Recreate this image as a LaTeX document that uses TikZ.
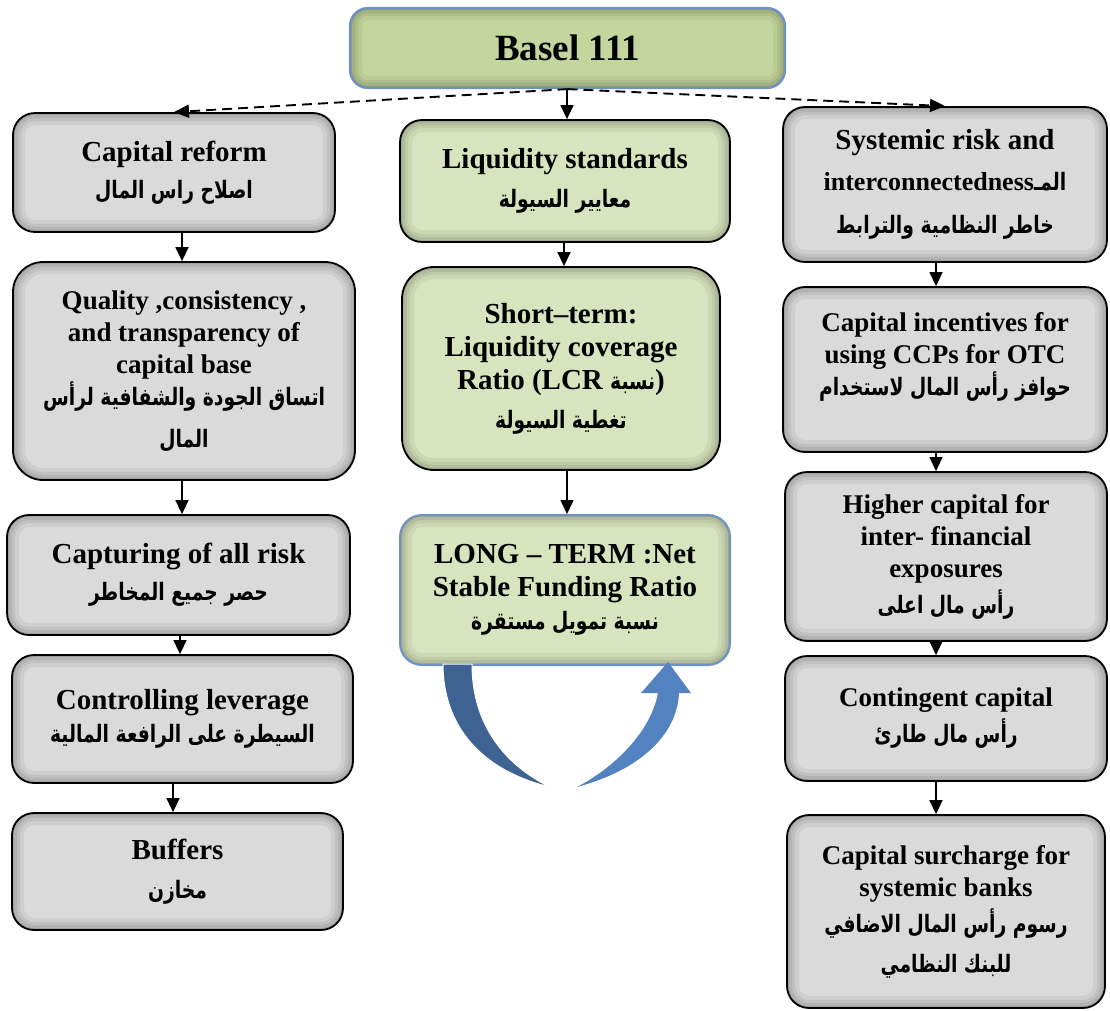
\documentclass[tikz,border=0pt]{standalone}
\usepackage{fontspec}
\setmainfont{Liberation Serif}
\newfontfamily\arabicfont[Script=Arabic,FakeStretch=0.78]{DejaVu Sans}
\TeXXeTstate=1
\usetikzlibrary{arrows.meta}

\definecolor{boxgray}{RGB}{218,218,218}
\definecolor{boxgreen}{RGB}{215,228,189}
\definecolor{topgreen}{RGB}{196,214,158}
\definecolor{edgeblue}{RGB}{110,145,198}
\definecolor{arcdark}{RGB}{62,98,146}
\definecolor{arclight}{RGB}{82,130,192}

% Arabic text, set right to left
\newcommand\ar[1]{{\arabicfont\bfseries\fontsize{24}{31}\selectfont\beginR #1\endR}}
% font sizes for the English lines
\newcommand\largelabel{\fontsize{29}{33}\selectfont}
\newcommand\midlabel{\fontsize{27}{32}\selectfont}

\tikzset{
  shadeedge/.style={path picture={
      \foreach \w/\o in {24/0.05,16/0.06,10/0.07,4/0.10}
        \draw[line width=\w pt, black, opacity=\o, rounded corners=#1]
          (path picture bounding box.south west) rectangle (path picture bounding box.north east);}},
  card/.style={draw=black, line width=1.8pt, rounded corners=#1, fill=boxgray,
    shadeedge=#1, align=center, inner sep=0pt,
    font=\bfseries\largelabel},
  card/.default=22pt,
  greencard/.style={card=#1, fill=boxgreen},
  greencard/.default=22pt,
  arr/.style={-{Triangle[length=14pt,width=13pt]}, line width=1.5pt},
  dasharr/.style={dash pattern=on 10pt off 6pt, line width=1.9pt,
    -{Triangle[length=15pt,width=13pt]}},
}

\begin{document}
\begin{tikzpicture}[x=1pt,y=-1pt]
\useasboundingbox (0,0) rectangle (1110,1010);

% top node
\node[card=18pt, fill=topgreen, draw=edgeblue, line width=2.2pt,
      minimum width=435pt, minimum height=80pt,
      font=\bfseries\fontsize{37}{40}\selectfont] (basel) at (567.5,48) {Basel 111};

% left column: capital reform
\node[card, minimum width=322pt, minimum height=119pt] (capref) at (174,172.5)
  {Capital reform\\[4pt]\ar{اصلاح راس المال}};
\node[card=30pt, minimum width=342pt, minimum height=218pt, font=\bfseries\midlabel] (quality) at (184,371)
  {Quality ,consistency ,\\and transparency of\\capital base\\\ar{اتساق الجودة والشفافية لرأس}\\[10pt]\ar{المال}};
\node[card, minimum width=343pt, minimum height=120pt] (capture) at (178.5,575)
  {Capturing of all risk\\[4pt]\ar{حصر جميع المخاطر}};
\node[card, minimum width=341pt, minimum height=128pt] (control) at (182.5,719)
  {Controlling leverage\\\ar{السيطرة على الرافعة المالية}};
\node[card, minimum width=331pt, minimum height=117pt] (buffers) at (177.5,871.5)
  {Buffers\\[6pt]\ar{مخازن}};

% middle column: liquidity
\node[greencard, minimum width=330pt, minimum height=122pt] (liq) at (565,181)
  {Liquidity standards\\[6pt]\ar{معايير السيولة}};
\node[greencard=32pt, minimum width=318pt, minimum height=203pt] (short) at (561,368.5)
  {Short–term:\\Liquidity coverage\\Ratio (LCR \ar{نسبة})\\[6pt]\ar{تغطية السيولة}};
\node[greencard, draw=edgeblue, line width=2pt, minimum width=330pt, minimum height=150pt] (long) at (565,590)
  {LONG – TERM :Net\\Stable Funding Ratio\\\ar{نسبة تمويل مستقرة}};

% right column: systemic risk
\node[card, minimum width=324pt, minimum height=155pt] (sys) at (945,184.5)
  {Systemic risk and\\[8pt]{\fontsize{26}{32}\selectfont interconnectedness}\ar{المـ}\\[10pt]\ar{خاطر النظامية والترابط}};
\node[card, minimum width=324pt, minimum height=165pt, font=\bfseries\midlabel] (inc) at (945,369.5)
  {Capital incentives for\\using CCPs for OTC\\\ar{حوافز رأس المال لاستخدام}\\\mbox{}};
\node[card, minimum width=322pt, minimum height=169pt, font=\bfseries\midlabel] (higher) at (946,556.5)
  {Higher capital for\\inter- financial\\exposures\\[4pt]\ar{رأس مال اعلى}};
\node[card, minimum width=322pt, minimum height=125pt, font=\bfseries\midlabel] (cont) at (946,718.5)
  {Contingent capital\\[4pt]\ar{رأس مال طارئ}};
\node[card, minimum width=318pt, minimum height=193pt, font=\bfseries\midlabel] (surch) at (946,911.5)
  {Capital surcharge for\\systemic banks\\[4pt]\ar{رسوم رأس المال الاضافي}\\[8pt]\ar{للبنك النظامي}};

% columns of vertical connectors
\coordinate (xa) at (182,0);
\coordinate (xb) at (180,0);
\coordinate (xc) at (173,0);
\coordinate (xm) at (567,0);
\coordinate (xn) at (564,0);
\coordinate (xr) at (936,0);

\draw[dasharr] (basel.south) -- (capref.north);
\draw[dasharr] (basel.south) -- (sys.north);

\draw[arr] (basel.south -| xm) -- (liq.north -| xm);
\draw[arr] (liq.south -| xn) -- (short.north -| xn);
\draw[arr] (short.south -| xm) -- (long.north -| xm);

\draw[arr] (capref.south -| xa) -- (quality.north -| xa);
\draw[arr] (quality.south -| xa) -- (capture.north -| xa);
\draw[arr] (capture.south -| xb) -- (control.north -| xb);
\draw[arr] (control.south -| xc) -- (buffers.north -| xc);

\draw[arr] (sys.south -| xr) -- (inc.north -| xr);
\draw[arr] (inc.south -| xr) -- (higher.north -| xr);
\draw[arr] (higher.south -| xr) -- (cont.north -| xr);
\draw[arr] (cont.south -| xr) -- (surch.north -| xr);

% U-turn arrow under the long-term node
\fill[arcdark, draw=white, line width=1pt]
  (443,664) .. controls (443,725) and (480,770) .. (550,787)
  .. controls (505,765) and (472,725) .. (472,664) -- cycle;
\fill[arclight]
  (577,787) .. controls (640,770) and (677,735) .. (679,693)
  -- (691,693) -- (668,662) -- (641,693) -- (658,693)
  .. controls (650,735) and (610,770) .. (577,787) -- cycle;
\end{tikzpicture}
\end{document}
